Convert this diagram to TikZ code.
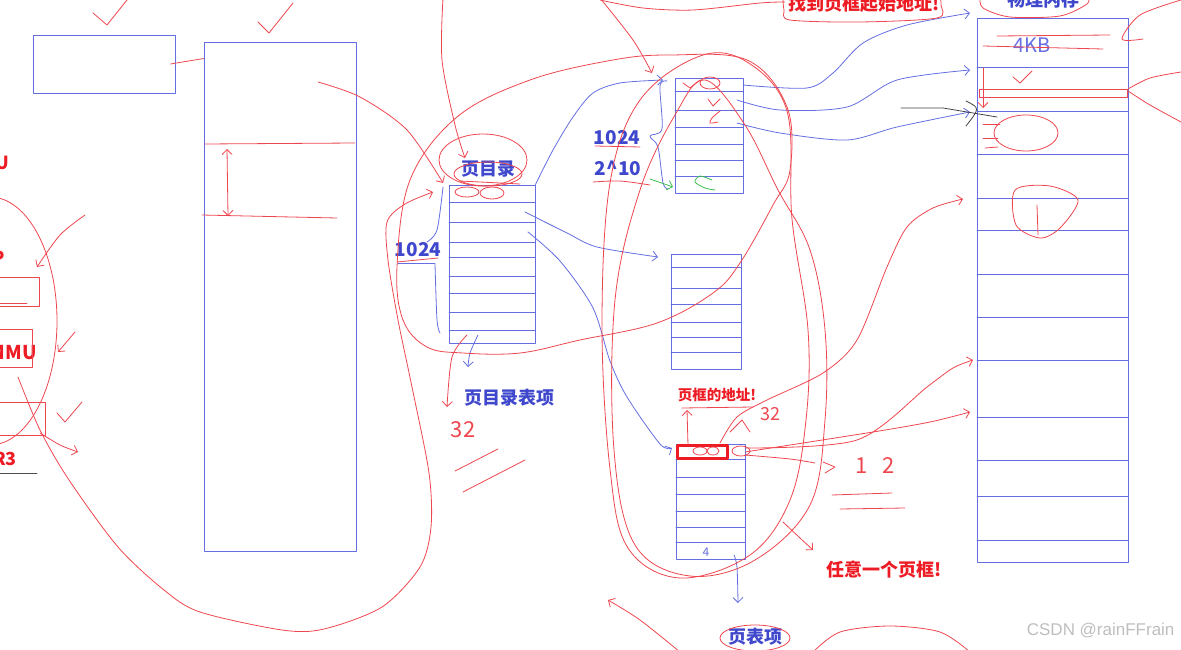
\documentclass[tikz,border=0pt]{standalone}
\usepackage{fontspec}
\newfontfamily\cjk{Noto Sans CJK SC}
\newfontfamily\wmfont{Liberation Sans}
\usepackage{tikz}
\usetikzlibrary{arrows.meta}
\definecolor{penblue}{RGB}{63,72,204}
\definecolor{lineblue}{RGB}{100,110,225}
\definecolor{penred}{RGB}{237,28,36}
\definecolor{scribred}{RGB}{238,70,78}
\definecolor{pengreen}{RGB}{60,190,80}
\definecolor{markgray}{RGB}{190,190,190}

\begin{document}
\begin{tikzpicture}[x=1pt, y=-1pt, line join=round, line cap=round,
    >={Straight Barb[length=5pt,width=10pt]},
    frame/.style={draw=lineblue, line width=0.9pt, inner sep=0pt},
    rowline/.style={lineblue, line width=0.9pt},
    bluelink/.style={lineblue, line width=0.8pt},
    redpen/.style={scribred, line width=0.8pt},
    bluelabel/.style={text=penblue, font=\cjk\bfseries\fontsize{18}{20}\selectfont, inner sep=0pt},
    redlabel/.style={text=penred, font=\cjk\bfseries\fontsize{18}{20}\selectfont, inner sep=0pt},
    handnum/.style={text=scribred, font=\cjk\fontsize{22}{24}\selectfont, inner sep=0pt}]

    \useasboundingbox (0,0) rectangle (1181,650);
    \clip (0,0) rectangle (1181,650);

    % boxes and tables
    \node[frame, minimum width=142pt, minimum height=58pt] (regbox) at (104,64) {};
    \node[frame, minimum width=152pt, minimum height=509pt] (vmem) at (280,296.5) {};
    \node[frame, minimum width=86pt, minimum height=158pt] (pgdir) at (492,264) {};
    \node[frame, minimum width=68pt, minimum height=115pt] (ptone) at (709,135.5) {};
    \node[frame, minimum width=70pt, minimum height=115pt] (pttwo) at (706,311.5) {};
    \node[frame, minimum width=69pt, minimum height=115pt] (ptthree) at (710.5,501.5) {};
    \node[frame, minimum width=151pt, minimum height=544pt] (phys) at (1052.5,290) {};

    \foreach \y in {202,222,242,257,276,293,312,330}
        \draw[rowline] (449,\y) -- (535,\y);
    \foreach \y in {91,110,127,144,160,176}
        \draw[rowline] (675,\y) -- (743,\y);
    \foreach \y in {267,288,304,322,337,352}
        \draw[rowline] (671,\y) -- (741,\y);
    \foreach \y in {459,477,494,511,527,542}
        \draw[rowline] (676,\y) -- (745,\y);
    \foreach \y in {67,111,154,198,230,274,317,360,417,460,496,540}
        \draw[rowline] (977,\y) -- (1128,\y);
    \draw[penred, line width=3pt] (677,445) rectangle (727,458);

    % labels
    \node[bluelabel] (pgdirlbl) at (488,169) {页目录};
    \node[bluelabel] (pdelbl) at (509,398) {页目录表项};
    \node[bluelabel] (ptelbl) at (755,637) {页表项};
    \node[bluelabel] (physlbl) at (1043,0) {物理内存};
    \node[bluelabel, font=\cjk\bfseries\fontsize{19}{20}\selectfont] (cnta) at (418,250) {1024};
    \node[bluelabel, font=\cjk\bfseries\fontsize{19}{20}\selectfont] (cntb) at (617,138) {1024};
    \node[bluelabel, font=\cjk\bfseries\fontsize{19}{20}\selectfont] (cntc) at (618,168) {2\^{}10};
    \node[redlabel, font=\cjk\bfseries\fontsize{14.5}{16}\selectfont] (framelbl) at (717,395) {页框的地址!};
    \node[redlabel] (anylbl) at (884,570) {任意一个页框!};
    \node[redlabel] (findlbl) at (864,4) {找到页框起始地址!};
    \node[redlabel, anchor=east] (cpulbl) at (9,163) {CPU};
    \node[redlabel, anchor=east] (plbl) at (5,258) {P};
    \node[redlabel, anchor=east, font=\cjk\bfseries\fontsize{19}{20}\selectfont] (mmulbl) at (37,353) {MMU};
    \node[redlabel, anchor=east] (crlbl) at (17,459) {CR3};
    \node[handnum] (numa) at (463,430) {32};
    \node[handnum, font=\cjk\fontsize{18}{20}\selectfont] (numb) at (770,414) {32};
    \node[handnum] (numc) at (875,466) {1\hspace{14pt}2};
    \node[text=lineblue, font=\cjk\fontsize{20}{22}\selectfont, inner sep=0pt] (kblbl) at (1032,45) {4KB};
    \node[text=lineblue, font=\cjk\fontsize{12}{14}\selectfont, inner sep=0pt] (fourlbl) at (706,552) {4};
    \node[text=markgray, font=\wmfont\fontsize{17}{20}\selectfont, anchor=east] (mark) at (1178,631) {CSDN @rainFFrain};

    % blue links
    \draw[bluelink,->] plot[smooth] coordinates {(pgdir.north east) (553,150) (573,117) (593,93) (620,83) (663,80)};
    \draw[bluelink,->] plot[smooth] coordinates {(525,212) (567,233) (597,247) (658,257)};
    \draw[bluelink,->] plot[smooth] coordinates {(528,232) (560,261) (593,308) (610,361) (627,397) (660,444) (672,448)};
    \draw[bluelink,->] plot[smooth] coordinates {(478,335) (470,353) (468,367)};
    \draw[bluelink,->] plot[smooth] coordinates {(734,555) (737,567) (738,603)};
    \draw[bluelink,->] plot[smooth] coordinates {(743,85) (807,88) (833,73) (863,43) (907,25) (970,13)};
    \draw[bluelink,->] plot[smooth] coordinates {(737,100) (780,110) (847,107) (897,80) (970,70)};
    \draw[bluelink,->] plot[smooth] coordinates {(737,123) (780,133) (847,140) (897,127) (970,112)};
    \draw[bluelink] plot[smooth] coordinates {(443,187) (437,230) (427,242)};
    \draw[bluelink] (398,263) -- (435,263);
    \draw[bluelink] plot[smooth] coordinates {(435,264) (437,320) (440,333)};
    \draw[bluelink] plot[smooth] coordinates {(667,81) (660,86) (662,129) (650,136) (658,147) (663,183) (668,189)};
    \draw[black!75, line width=0.8pt] (901,108) -- (943,108) -- (997,117);
    \draw[black!75, line width=0.8pt] (966,101) .. controls (980,108) .. (966,126);

    % green marks
    \draw[pengreen, line width=0.8pt, ->] (650,179) -- (673,187);
    \draw[pengreen, line width=0.8pt] plot[smooth] coordinates {(712,180) (700,176) (695,182) (705,188) (715,190)};

    % red strokes, left part
    \draw[redpen] (93,13) -- (107,25) -- (127,0);
    \draw[redpen] (258,22) -- (269,33) -- (293,3);
    \draw[redpen] ([xshift=-5pt]regbox.east) -- ([yshift=-17pt]vmem.north west);
    \draw[redpen] (205,144) -- (355,143);
    \draw[redpen] (202,215) -- (337,218);
    \draw[redpen,<->] (227,149) -- (228,216);
    \draw[redpen] (-10,321) ellipse [x radius=67pt, y radius=124pt];
    \draw[redpen] (-5,277) rectangle (39,306);
    \draw[redpen] (0,303) -- (27,303);
    \draw[redpen] (-5,329) rectangle (32,367);
    \draw[redpen] (-5,402) rectangle (45,435);
    \draw[black!70, line width=0.8pt] (0,473) -- (37,473);
    \draw[redpen,->] plot[smooth] coordinates {(85,215) (60,235) (37,267)};
    \draw[redpen,->] (75,332) -- (58,352);
    \draw[redpen] (57,413) -- (65,422) -- (82,402);
    \draw[redpen,->] plot[smooth] coordinates {(40,433) (60,445) (78,452)};
    \draw[redpen,->] plot[smooth] coordinates {(18,377) (40,430) (69,480) (118,547) (164,590) (200,612) (282,630) (324,629) (382,607) (420,567) (431,527) (429,473) (412,387) (398,320) (388,260) (387,222) (405,204) (433,192)};
    \draw[redpen,->] plot[smooth] coordinates {(318,82) (360,97) (407,130) (443,183)};
    \draw[redpen,->] plot[smooth] coordinates {(443,-2) (442,60) (455,125) (465,158)};

    % red strokes round the tables
    \draw[redpen] (483,160) ellipse [x radius=44pt, y radius=26pt];
    \draw[redpen] (488,174) ellipse [x radius=34pt, y radius=12pt];
    \draw[redpen] (467,192) ellipse [x radius=12pt, y radius=5pt];
    \draw[redpen] (492,193) ellipse [x radius=12pt, y radius=6pt];
    \draw[redpen] (460,181) -- (520,184);
    \draw[redpen] (397,262) -- (438,258);
    \draw[redpen] (595,146) -- (640,147);
    \draw[redpen] plot[smooth] coordinates {(593,182) (620,181) (650,185)};
    \draw[redpen] plot[smooth cycle, tension=0.6] coordinates {(410,180) (457,117) (530,80) (613,60) (670,55) (747,60) (787,107) (790,170) (773,205) (740,263) (713,293) (657,323) (580,340) (520,353) (463,353) (427,347) (403,320) (397,267)};
    \draw[redpen] plot[smooth cycle, tension=0.6] coordinates {(700,56) (747,62) (787,111) (792,219) (808,330) (806,420) (790,500) (750,555) (680,578) (628,548) (610,469) (602,326) (610,183) (640,100)};
    \draw[redpen] plot[smooth cycle, tension=0.6] coordinates {(705,80) (745,125) (778,190) (810,250) (825,330) (825,420) (810,505) (755,560) (690,576) (635,545) (614,450) (615,300) (640,190) (675,115)};
    \draw[redpen] (710,83) ellipse [x radius=10pt, y radius=6pt];
    \draw[redpen] (683,83) -- (690,88) -- (700,80);
    \draw[redpen] (708,99) -- (713,106) -- (720,99);
    \draw[redpen] plot[smooth] coordinates {(720,111) (712,118) (710,123) (718,122)};

    % red strokes, top and right
    \draw[redpen] plot[smooth] coordinates {(600,0) (643,8) (693,10) (760,3) (785,2)};
    \draw[redpen,->] plot[smooth] coordinates {(600,-2) (633,40) (652,73)};
    \draw[redpen] plot[smooth] coordinates {(783,-3) (784,10) (790,20) (860,22) (937,18) (941,5) (940,-3)};
    \draw[redpen] plot[smooth] coordinates {(980,-3) (983,8) (1010,17) (1060,16) (1087,4) (1088,-3)};
    \draw[redpen] (997,36) -- (1110,35);
    \draw[redpen] (983,46) -- (1103,49);
    \draw[redpen] (1013,77) -- (1020,83) -- (1032,71);
    \draw[redpen] (979,89) rectangle (1127,97);
    \draw[redpen,->] (983,68) -- (983,108);
    \draw[redpen] (1026,133) ellipse [x radius=32pt, y radius=18pt];
    \draw[redpen] (983,124) -- (1000,124);
    \draw[redpen] (983,138) -- (998,138);
    \draw[redpen] (985,148) -- (998,147);
    \draw[redpen] plot[smooth cycle] coordinates {(1015,190) (1050,186) (1078,200) (1060,228) (1040,238) (1016,225)};
    \draw[redpen] (1037,205) -- (1038,235);
    \draw[redpen] plot[smooth] coordinates {(1181,0) (1140,15) (1122,39) (1143,39)};
    \draw[redpen] plot[smooth] coordinates {(1181,72) (1150,78) (1128,89)};
    \draw[redpen] plot[smooth] coordinates {(1128,91) (1150,105) (1181,122)};

    % red strokes round the last table
    \draw[redpen,->] plot[smooth] coordinates {(745,448) (857,440) (927,387) (953,368) (973,360)};
    \draw[redpen,->] plot[smooth] coordinates {(745,452) (873,432) (930,422) (970,412)};
    \draw[redpen] plot[smooth] coordinates {(745,455) (790,459) (815,463)};
    \draw[redpen,->] plot[smooth] coordinates {(720,443) (737,417) (767,400) (823,373) (857,340) (887,267) (907,227) (933,208) (963,199)};
    \draw[redpen,->] (688,445) -- (687,410);
    \draw[redpen] (682,408) -- (753,407);
    \draw[redpen] (730,432) -- (742,420) -- (750,432);
    \draw[redpen] (741,451) ellipse [x radius=9pt, y radius=5pt];
    \draw[redpen] (700,451) ellipse [x radius=7pt, y radius=4pt];
    \draw[redpen] (713,451) ellipse [x radius=6pt, y radius=4pt];
    \draw[redpen] (823,462) -- (835,467) -- (825,473);
    \draw[redpen] (832,495) -- (892,493);
    \draw[redpen] (840,509) -- (905,508);
    \draw[redpen] (455,471) -- (498,449);
    \draw[redpen] (463,492) -- (525,460);
    \draw[redpen,->] plot[smooth] coordinates {(467,335) (452,357) (447,407)};
    \draw[redpen,->] plot[smooth] coordinates {(783,522) (800,538) (813,550)};
    \draw[redpen] (755,638) ellipse [x radius=35pt, y radius=13pt];
    \draw[redpen] plot[smooth] coordinates {(813,652) (840,632) (890,626) (940,632) (970,652)};
    \draw[redpen,->] plot[smooth] coordinates {(680,652) (640,620) (608,600)};

\end{tikzpicture}
\end{document}
